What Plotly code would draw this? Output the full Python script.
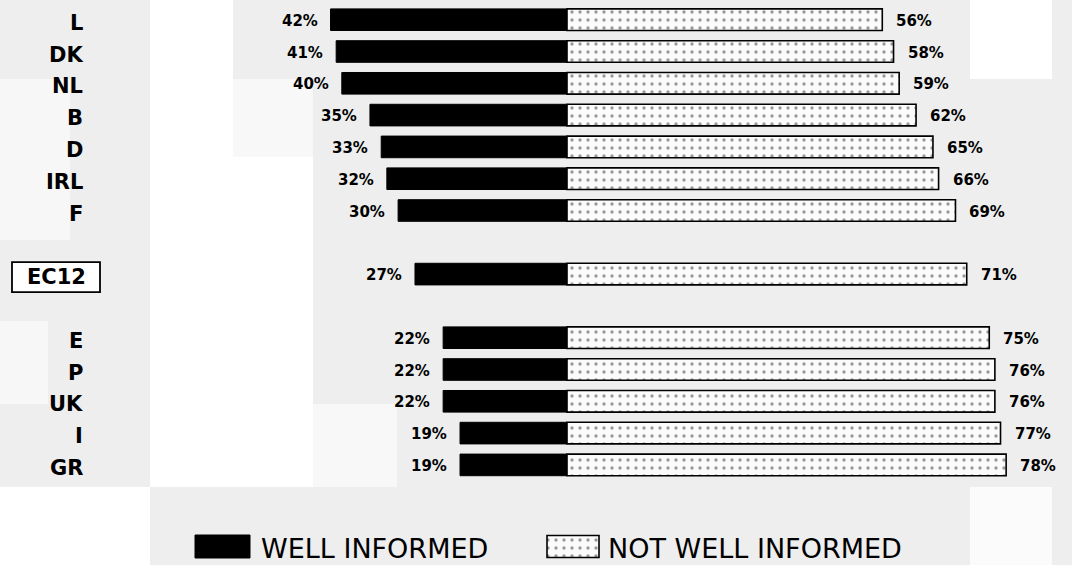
import plotly.graph_objects as go

# Survey results by member state (share of respondents, %)
countries = ["L", "DK", "NL", "B", "D", "IRL", "F", "EC12", "E", "P", "UK", "I", "GR"]
row_pos = [0, 1, 2, 3, 4, 5, 6, 8, 10, 11, 12, 13, 14]
well_informed = [42, 41, 40, 35, 33, 32, 30, 27, 22, 22, 22, 19, 19]
not_well_informed = [56, 58, 59, 62, 65, 66, 69, 71, 75, 76, 76, 77, 78]
series_names = ["WELL INFORMED", "NOT WELL INFORMED"]

W, H = 1072, 565
PX_PER_PCT = 5.63      # horizontal scale
ZERO_PX = 567          # position of the 0 line
ROW_PX = 31.8          # distance between rows
TOP_ROW_PX = 19.7      # centre of the first row

LABEL_FONT = "DejaVu Sans"
DOTS = dict(shape=".", fgcolor="#3a3a3a", bgcolor="#fbfbfb", size=8, solidity=0.14)

fig = go.Figure()

# Black bars grow to the left, dotted bars to the right
fig.add_trace(go.Bar(
    y=row_pos, x=[-v for v in well_informed], base=0, orientation="h",
    width=0.68, marker=dict(color="black", line=dict(color="black", width=1)),
    name=series_names[0], showlegend=False, hoverinfo="skip",
))
fig.add_trace(go.Bar(
    y=row_pos, x=not_well_informed, base=0, orientation="h",
    width=0.68,
    marker=dict(color="white", line=dict(color="black", width=1.6), pattern=DOTS),
    name=series_names[1], showlegend=False, hoverinfo="skip",
))

annotations = []
pct_font = dict(family=LABEL_FONT, size=15, color="black", weight="bold")
for y, w, nw in zip(row_pos, well_informed, not_well_informed):
    annotations.append(dict(x=-w, y=y, xref="x", yref="y", text=f"{w}%",
                            showarrow=False, xanchor="right", yanchor="middle",
                            xshift=-11, yshift=-1, font=pct_font))
    annotations.append(dict(x=nw, y=y, xref="x", yref="y", text=f"{nw}%",
                            showarrow=False, xanchor="left", yanchor="middle",
                            xshift=12, yshift=-1, font=pct_font))

# Country labels on the left
cat_font = dict(family=LABEL_FONT, size=21, color="black", weight="bold")
for y, c in zip(row_pos, countries):
    if c == "EC12":
        annotations.append(dict(x=56 / W, y=y, xref="paper", yref="y", text=c,
                                showarrow=False, xanchor="center", yanchor="middle",
                                yshift=-3,
                                font=dict(family=LABEL_FONT, size=21, color="black",
                                          weight="bold")))
    else:
        annotations.append(dict(x=85 / W, y=y, xref="paper", yref="y", text=c,
                                showarrow=False, xanchor="right", yanchor="middle",
                                yshift=-3, font=cat_font))

shapes = []


def px_rect(x0, y0, x1, y1, color, line=None):
    return dict(type="rect", xref="paper", yref="paper",
                x0=x0 / W, x1=x1 / W, y0=1 - y1 / H, y1=1 - y0 / H,
                fillcolor=color, line=line or dict(width=0), layer="below")


# Light grey page with lighter panels
panels = [
    (150, 0, 233, 487, "#ffffff"),
    (233, 79, 313, 157, "#f8f8f8"),
    (233, 157, 313, 487, "#ffffff"),
    (313, 404, 397, 487, "#f8f8f8"),
    (0, 79, 70, 240, "#f7f7f7"),
    (0, 321, 48, 404, "#f7f7f7"),
    (0, 487, 150, 565, "#ffffff"),
    (970, 0, 1052, 79, "#ffffff"),
    (970, 487, 1052, 565, "#fbfbfb"),
]
for x0, y0, x1, y1, col in panels:
    shapes.append(px_rect(x0, y0, x1, y1, col))

# Frame round the EC12 label
ec_row = row_pos[countries.index("EC12")]
shapes.append(dict(type="rect", xref="paper", yref="y",
                   x0=12 / W, x1=100 / W,
                   y0=ec_row - 0.47 + 3 / ROW_PX, y1=ec_row + 0.47 + 3 / ROW_PX,
                   fillcolor="white", line=dict(color="black", width=1.8), layer="below"))

# Legend keys drawn on a pixel-space overlay axis
fig.add_trace(go.Bar(
    y=[546.5], x=[55], base=[195], orientation="h", width=23,
    marker=dict(color="black", line=dict(color="black", width=1)),
    xaxis="x2", yaxis="y2", showlegend=False, hoverinfo="skip",
))
fig.add_trace(go.Bar(
    y=[546.5], x=[52], base=[547], orientation="h", width=22,
    marker=dict(color="white", line=dict(color="black", width=1.6), pattern=DOTS),
    xaxis="x2", yaxis="y2", showlegend=False, hoverinfo="skip",
))
leg_font = dict(family=LABEL_FONT, size=27, color="black")
annotations.append(dict(x=259 / W, y=1 - 548 / H, xref="paper", yref="paper",
                        text=series_names[0], showarrow=False, xanchor="left",
                        yanchor="middle", font=leg_font))
annotations.append(dict(x=606 / W, y=1 - 548 / H, xref="paper", yref="paper",
                        text=series_names[1], showarrow=False, xanchor="left",
                        yanchor="middle", font=leg_font))

fig.update_layout(
    width=W, height=H,
    margin=dict(l=0, r=0, t=0, b=0),
    paper_bgcolor="#eeeeee",
    plot_bgcolor="rgba(0,0,0,0)",
    barmode="overlay",
    xaxis=dict(range=[-ZERO_PX / PX_PER_PCT, (W - ZERO_PX) / PX_PER_PCT],
               visible=False, fixedrange=True),
    yaxis=dict(range=[(H - TOP_ROW_PX) / ROW_PX, -TOP_ROW_PX / ROW_PX],
               visible=False, fixedrange=True),
    xaxis2=dict(range=[0, W], overlaying="x", anchor="y2", visible=False, fixedrange=True),
    yaxis2=dict(range=[H, 0], overlaying="y", anchor="x2", visible=False, fixedrange=True),
    shapes=shapes,
    annotations=annotations,
    showlegend=False,
)

fig.write_html("out.html")
